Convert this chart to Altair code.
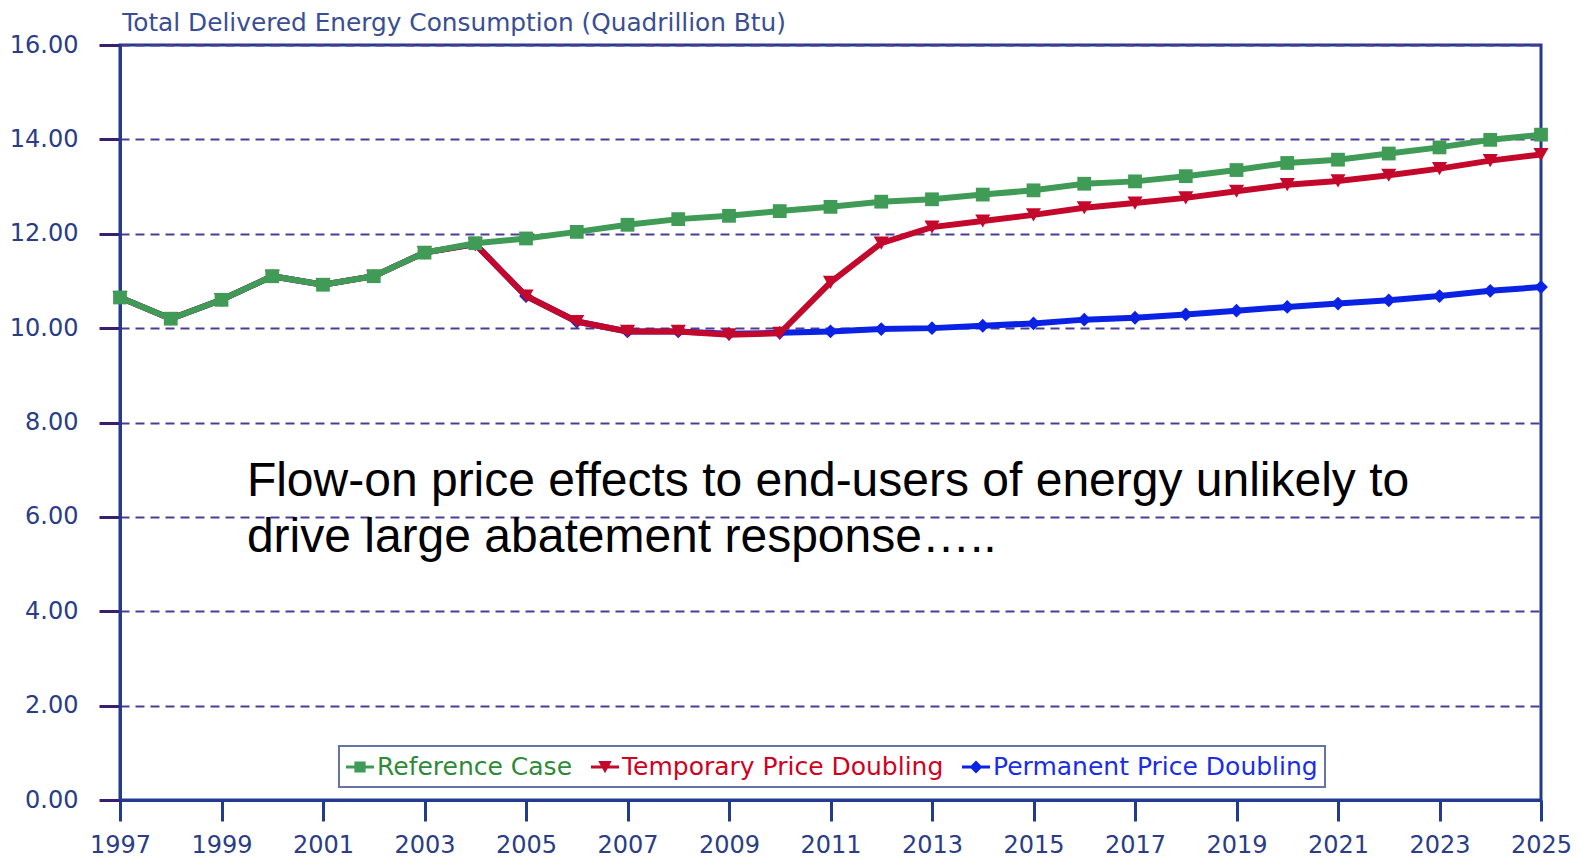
import altair as alt
import pandas as pd

# ---------------- data ----------------
years = list(range(1997, 2026))
reference_case = [10.65, 10.20, 10.60, 11.10, 10.92, 11.10, 11.60, 11.80, 11.90, 12.04,
                  12.19, 12.31, 12.38, 12.48, 12.57, 12.68, 12.73, 12.83, 12.92, 13.06,
                  13.11, 13.22, 13.35, 13.50, 13.57, 13.70, 13.83, 13.99, 14.10]
temporary_doubling = [10.65, 10.20, 10.60, 11.10, 10.92, 11.10, 11.60, 11.78, 10.68, 10.14,
                      9.93, 9.93, 9.86, 9.89, 10.97, 11.80, 12.14, 12.27, 12.40, 12.55,
                      12.65, 12.76, 12.90, 13.04, 13.12, 13.24, 13.38, 13.55, 13.68]
permanent_doubling = [10.65, 10.20, 10.60, 11.10, 10.92, 11.10, 11.60, 11.78, 10.68, 10.14,
                      9.93, 9.93, 9.88, 9.90, 9.93, 9.98, 10.00, 10.05, 10.10, 10.18,
                      10.22, 10.29, 10.37, 10.45, 10.52, 10.59, 10.68, 10.79, 10.87]

series_names = ["Reference Case", "Temporary Price Doubling", "Permanent Price Doubling"]
series_values = [reference_case, temporary_doubling, permanent_doubling]
line_colors = ["#3f9b55", "#c3082c", "#0a22e4"]
label_colors = ["#2f8a3a", "#d1001f", "#1a2ee8"]
marker_shapes = ["square", "triangle-down", "diamond"]
marker_sizes = [190, 230, 190]

x_ticks = list(range(1997, 2026, 2))
y_ticks = [0, 2, 4, 6, 8, 10, 12, 14, 16]

title_text = "Total Delivered Energy Consumption (Quadrillion Btu)"
note_lines = ["Flow-on price effects to end-users of energy unlikely to",
              "drive large abatement response….."]
note_x = 1999.5
note_y = 6.44

# legend symbols: a short line with the series marker on it
legend_paths = [
    "M-1,-0.1H1V0.1H-1Z M-0.4,-0.4H0.4V0.4H-0.4Z",
    "M-1,-0.1H1V0.1H-1Z M-0.48,-0.42L0.48,-0.42L0,0.45Z",
    "M-1,-0.1H1V0.1H-1Z M0,-0.46L0.46,0L0,0.46L-0.46,0Z",
]

rows = []
for name, vals in zip(series_names, series_values):
    for yr, v in zip(years, vals):
        rows.append({"series": name, "year": yr, "value": v})
df = pd.DataFrame(rows)

# ---------------- encodings ----------------
NAVY = "#233b8c"
TICK_TXT = "#2a3d86"

x_enc = alt.X("year:Q",
              scale=alt.Scale(domain=[1997, 2025], nice=False, zero=False),
              axis=alt.Axis(values=x_ticks, format="d", title=None, grid=False,
                            tickSize=21, tickWidth=3, tickColor=NAVY,
                            labelPadding=12, labelFontSize=24, labelFlush=False,
                            labelOverlap=False))
y_enc = alt.Y("value:Q",
              scale=alt.Scale(domain=[0, 16], nice=False, zero=True),
              axis=alt.Axis(values=y_ticks, format=".2f", title=None, grid=True,
                            gridDash=[9, 6], gridColor="#4d3c95", gridWidth=1.8,
                            tickSize=21, tickWidth=3, tickColor="#3a1f70",
                            labelPadding=21, labelFontSize=24))
color_nolegend = alt.Color("series:N",
                           scale=alt.Scale(domain=series_names, range=line_colors),
                           legend=None)

label_expr = ("(datum && datum.label == 'Reference Case') ? '%s' : "
              "((datum && datum.label == 'Temporary Price Doubling') ? '%s' : '%s')"
              % (label_colors[0], label_colors[1], label_colors[2]))

base = alt.Chart(df)

layers = []
# legend-only layer first, so its legend settings win when layers are merged
legend_common = dict(title=None, labelColor=alt.ExprRef(label_expr))
legend_layer = base.mark_point(filled=True, opacity=0, size=0).encode(
    x=x_enc, y=y_enc,
    color=alt.Color("series:N", scale=alt.Scale(domain=series_names, range=line_colors),
                    legend=alt.Legend(**legend_common)),
    shape=alt.Shape("series:N", scale=alt.Scale(domain=series_names, range=legend_paths),
                    legend=alt.Legend(**legend_common)),
)
layers.append(legend_layer)

# draw order: permanent (bottom), temporary, reference (top)
for idx in [2, 1, 0]:
    name = series_names[idx]
    sub = base.transform_filter(alt.datum.series == name)
    layers.append(sub.mark_line(strokeWidth=6).encode(x=x_enc, y=y_enc, color=color_nolegend))
    layers.append(sub.mark_point(shape=marker_shapes[idx], filled=True, opacity=1,
                                 size=marker_sizes[idx])
                  .encode(x=x_enc, y=y_enc, color=color_nolegend))

note_df = pd.DataFrame({"nx": [note_x], "ny": [note_y], "txt": [note_lines]})
note = alt.Chart(note_df).mark_text(align="left", baseline="alphabetic", fontSize=48,
                                    font="Liberation Sans", lineHeight=56,
                                    color="#000000").encode(
    x=alt.X("nx:Q", scale=alt.Scale(domain=[1997, 2025], nice=False, zero=False)),
    y=alt.Y("ny:Q", scale=alt.Scale(domain=[0, 16], nice=False)),
    text="txt:N")
layers.append(note)

chart = alt.layer(*layers).properties(
    width=1421, height=755,
    title=alt.TitleParams(text=title_text, anchor="start", fontSize=24.8,
                          font="DejaVu Sans", fontWeight="normal", color="#3a4e94",
                          offset=12, dy=15, dx=113),
    autosize=alt.AutoSizeParams(type="none"),
    padding={"left": 112, "top": 37, "right": 32, "bottom": 60},
).configure_view(
    stroke=NAVY, strokeWidth=3
).configure_axis(
    domainColor=NAVY, domainWidth=3, labelColor=TICK_TXT, labelFont="DejaVu Sans",
).configure_legend(
    orient="none", legendX=219, legendY=701, direction="horizontal",
    strokeColor="#6673a6", strokeWidth=2, fillColor="#ffffff", padding=7,
    symbolSize=784, symbolStrokeWidth=0, symbolOpacity=1,
    labelFont="DejaVu Sans", labelFontSize=25, labelOffset=3, columnPadding=18,
    labelLimit=0,
)

chart.save("out.html", embed_options={"renderer": "svg", "actions": False})
